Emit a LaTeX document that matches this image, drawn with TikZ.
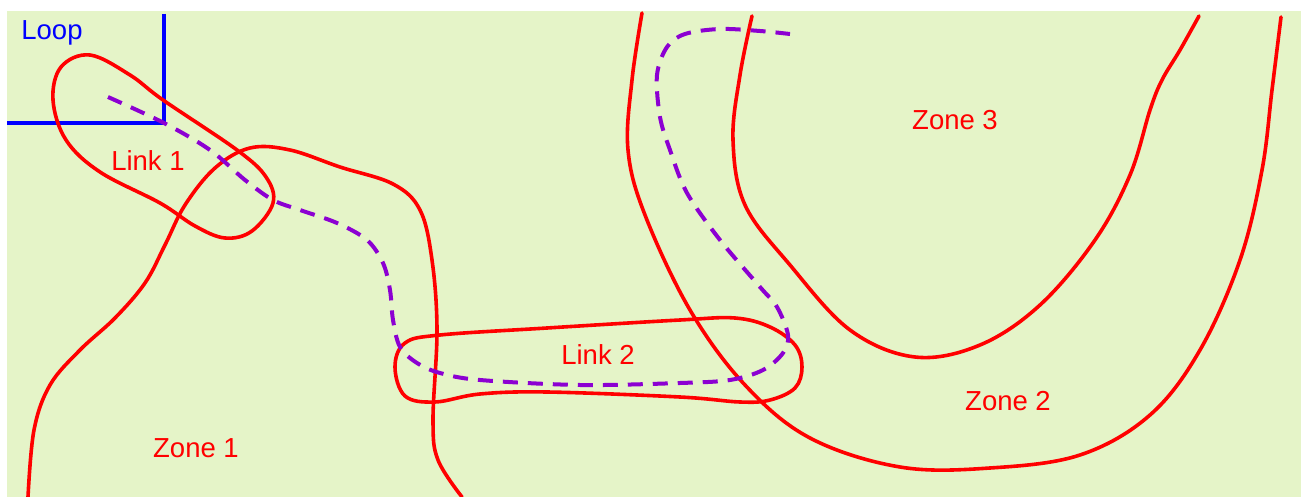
\documentclass[tikz,border=0pt]{standalone}
\usepackage{fontspec}
\setmainfont{Liberation Sans}
\definecolor{bggreen}{RGB}{229,244,200}
\definecolor{zred}{RGB}{255,0,0}
\definecolor{lblue}{RGB}{0,0,255}
\definecolor{dpurple}{RGB}{140,0,210}
\begin{document}
\begin{tikzpicture}[x=1pt,y=-1pt,
  zone/.style={draw=zred,line width=3.6pt,line cap=round,line join=round},
  loopline/.style={draw=lblue,line width=3.6pt},
  track/.style={draw=dpurple,line width=4pt,dash pattern=on 15pt off 10pt},
  lbl/.style={font=\fontsize{27.5}{32}\selectfont,inner sep=0pt},
  redlbl/.style={lbl,text=zred},
  bluelbl/.style={lbl,text=lblue}]
\useasboundingbox (0,0) rectangle (1306,497);
\fill[white] (0,0) rectangle (1306,497);
\fill[bggreen] (7,11) rectangle (1301,497);

% blue loop axes
\coordinate (ltop) at (164,14);
\coordinate (lcorner) at (164,123);
\coordinate (lleft) at (7,123);
\draw[loopline] (ltop) -- (lcorner) -- (lleft);

% Link 1 loop
\draw[zone] plot[smooth cycle,tension=0.6] coordinates {(90,55) (130,75) (163,100) (237,150) (266,177) (273,203) (252,231) (225,238) (195,226) (160,203) (100,172) (66,140) (53,100) (61,67)};

% Zone 1 boundary
\draw[zone] plot[smooth,tension=0.6] coordinates {(28,497) (34,430) (50,385) (80,350) (115,318) (145,283) (165,245) (185,205) (215,168) (250,148) (290,150) (340,167) (393,184) (420,210) (432,260) (437,330) (433,420) (438,460) (462,497)};

% Link 2 loop
\draw[zone] plot[smooth cycle,tension=0.6] coordinates {(395,367) (405,343) (440,335) (547,328) (680,320) (735,318) (770,327) (795,345) (802,367) (795,388) (770,400) (740,402) (680,397) (547,392) (480,394) (435,402) (405,396)};

% Zone 2 outer boundary
\draw[zone] plot[smooth,tension=0.6] coordinates {(642,13) (632,80) (628,150) (645,215) (690,310) (745,385) (810,438) (900,467) (990,468) (1080,455) (1150,415) (1200,350) (1240,260) (1262,170) (1272,90) (1281,17)};

% Zone 3 boundary
\draw[zone] plot[smooth,tension=0.6] coordinates {(752,16) (740,75) (733,140) (745,205) (790,265) (850,330) (915,357) (980,345) (1040,305) (1095,240) (1130,175) (1150,110) (1162,80) (1180,50) (1199,16)};

% dashed track
\draw[track] plot[smooth,tension=0.55] coordinates {(108,97) (164,123) (210,150) (245,180) (273,200) (300,210) (337,223) (367,240) (383,263) (390,290) (393,320) (400,347) (417,363) (440,373) (480,380) (580,385) (680,383) (730,380) (763,370) (783,353) (788,335) (777,307) (760,287) (720,240) (687,193) (670,150) (660,117) (657,75) (667,47) (685,34) (720,29) (760,31) (790,34)};

% labels
\node[bluelbl] (loop) at (52,33) {Loop};
\node[redlbl] (link1) at (148,161) {Link 1};
\node[redlbl] (link2) at (598,355) {Link 2};
\node[redlbl] (zone1) at (196,448) {Zone 1};
\node[redlbl] (zone2) at (1008,401) {Zone 2};
\node[redlbl] (zone3) at (955,120) {Zone 3};
\end{tikzpicture}
\end{document}
